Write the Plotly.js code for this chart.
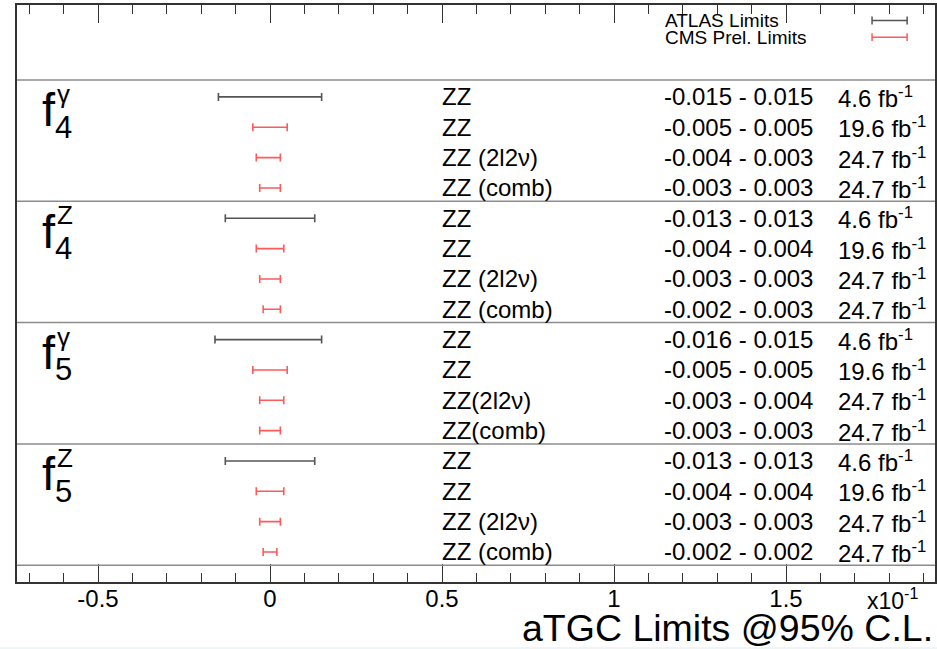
<!DOCTYPE html>
<html>
<head>
<meta charset="utf-8">
<script src="https://cdn.plot.ly/plotly-3.0.1.min.js"></script>
<style>html,body{margin:0;padding:0;background:#fff;}#chart{width:937px;height:649px;}</style>
</head>
<body>
<div id="chart"></div>
<script>
// ---------------- data ----------------
const groupSub = ['4', '4', '5', '5'];
const groupSup = ['γ', 'Z', 'γ', 'Z'];
const rowExperiment = ['ATLAS','CMS','CMS','CMS', 'ATLAS','CMS','CMS','CMS', 'ATLAS','CMS','CMS','CMS', 'ATLAS','CMS','CMS','CMS'];
const rowChannel = ['ZZ','ZZ','ZZ (2l2ν)','ZZ (comb)',
                    'ZZ','ZZ','ZZ (2l2ν)','ZZ (comb)',
                    'ZZ','ZZ','ZZ(2l2ν)','ZZ(comb)',
                    'ZZ','ZZ','ZZ (2l2ν)','ZZ (comb)'];
const rowLow  = [-0.015,-0.005,-0.004,-0.003, -0.013,-0.004,-0.003,-0.002, -0.016,-0.005,-0.003,-0.003, -0.013,-0.004,-0.003,-0.002];
const rowHigh = [ 0.015, 0.005, 0.003, 0.003,  0.013, 0.004, 0.003, 0.003,  0.015, 0.005, 0.004, 0.003,  0.013, 0.004, 0.003, 0.002];
const rowLumi = ['4.6','19.6','24.7','24.7', '4.6','19.6','24.7','24.7', '4.6','19.6','24.7','24.7', '4.6','19.6','24.7','24.7'];
const tickVals = [-0.5, 0, 0.5, 1, 1.5];
const tickText = ['-0.5', '0', '0.5', '1', '1.5'];
const axisScale = 10; // axis is in units of x10^-1
const legendNames = ['ATLAS Limits', 'CMS Prel. Limits'];

// ---------------- styling ----------------
const FONT = 'Liberation Sans, Arial, Helvetica, sans-serif';
const COL = {ATLAS: '#555555', CMS: '#ff5a5a'};
const rowsPerGroup = 4;

function fmt(v){ return v.toFixed(3); }

const traces = ['ATLAS', 'CMS'].map(exp => {
  const xs = [], ys = [], ep = [], em = [];
  rowExperiment.forEach((e, i) => {
    if (e !== exp) return;
    const lo = rowLow[i] * axisScale, hi = rowHigh[i] * axisScale;
    const mid = (lo + hi) / 2;
    xs.push(mid); ys.push(i); ep.push(hi - mid); em.push(mid - lo);
  });
  return {
    type: 'scatter', mode: 'markers', x: xs, y: ys, showlegend: false, hoverinfo: 'skip',
    marker: {size: 1, color: 'rgba(0,0,0,0)'},
    error_x: {type: 'data', symmetric: false, array: ep, arrayminus: em,
              color: COL[exp], thickness: 1.6, width: 4}
  };
});

const annotations = [];
const shapes = [];
const nGroups = groupSub.length;

rowChannel.forEach((ch, i) => {
  annotations.push({xref: 'x', yref: 'y', x: 0.495, y: i, xanchor: 'left', yanchor: 'middle',
    text: ch, showarrow: false, font: {family: FONT, size: 24, color: '#000'}});
  annotations.push({xref: 'x', yref: 'y', x: 1.14, y: i, xanchor: 'left', yanchor: 'middle',
    text: fmt(rowLow[i]) + ' - ' + fmt(rowHigh[i]), showarrow: false, font: {family: FONT, size: 24, color: '#000'}});
  annotations.push({xref: 'x', yref: 'y', x: 1.644, y: i, xanchor: 'left', yanchor: 'middle',
    text: rowLumi[i] + ' fb<sup>-1</sup>', showarrow: false, font: {family: FONT, size: 24, color: '#000'}});
});

for (let g = 0; g < nGroups; g++) {
  const y0 = g * rowsPerGroup;
  annotations.push({xref: 'x', yref: 'y', x: -0.668, y: y0 + 0.42, xanchor: 'left', yanchor: 'middle',
    text: 'f', showarrow: false, font: {family: FONT, size: 47, color: '#000'}});
  annotations.push({xref: 'x', yref: 'y', x: -0.632, y: y0 + 1.0, xanchor: 'left', yanchor: 'middle',
    text: groupSub[g], showarrow: false, font: {family: FONT, size: 31, color: '#000'}});
  annotations.push({xref: 'x', yref: 'y', x: -0.625, y: y0 - 0.1, xanchor: 'left', yanchor: 'middle',
    text: groupSup[g], showarrow: false, font: {family: FONT, size: 26, color: '#000'}});
}
for (let g = 0; g <= nGroups; g++) {
  const ys = g * rowsPerGroup - 0.56;
  shapes.push({type: 'line', xref: 'paper', yref: 'y', x0: 0, x1: 1, y0: ys, y1: ys,
    line: {color: '#8c8c8c', width: 1.5}});
}

// legend block (manual)
const legY = [-2.52, -1.97];
legendNames.forEach((n, k) => {
  annotations.push({xref: 'x', yref: 'y', x: 1.143, y: legY[k], xanchor: 'left', yanchor: 'middle',
    text: n, showarrow: false, font: {family: FONT, size: 19, color: '#000'}});
  const c = k === 0 ? COL.ATLAS : COL.CMS;
  shapes.push({type: 'line', xref: 'x', yref: 'y', x0: 1.75, x1: 1.852, y0: legY[k], y1: legY[k], line: {color: c, width: 1.5}});
  shapes.push({type: 'line', xref: 'x', yref: 'y', x0: 1.75, x1: 1.75, y0: legY[k] - 0.13, y1: legY[k] + 0.13, line: {color: c, width: 1.5}});
  shapes.push({type: 'line', xref: 'x', yref: 'y', x0: 1.852, x1: 1.852, y0: legY[k] - 0.13, y1: legY[k] + 0.13, line: {color: c, width: 1.5}});
});

annotations.push({xref: 'paper', yref: 'paper', x: 0.924, y: -0.029, xanchor: 'left', yanchor: 'middle',
  text: 'x10<sup>-1</sup>', showarrow: false, font: {family: FONT, size: 23, color: '#000'}});
annotations.push({xref: 'paper', yref: 'paper', x: 1.0, y: -0.080, xanchor: 'right', yanchor: 'middle',
  text: 'aTGC Limits @95% C.L.', showarrow: false, font: {family: FONT, size: 37.5, color: '#000'}});

// faint strip at the bottom edge of the image
shapes.push({type: 'rect', xref: 'paper', yref: 'paper', x0: -0.02, x1: 1.01, y0: -0.1165, y1: -0.1125,
  line: {width: 0}, fillcolor: '#eef5f4', layer: 'below'});

const layout = {
  width: 937, height: 649,
  margin: {l: 17, r: 2, t: 5, b: 67},
  paper_bgcolor: '#ffffff', plot_bgcolor: '#ffffff',
  showlegend: false,
  xaxis: {
    range: [-0.7355, 1.933], showgrid: false, zeroline: false,
    showline: true, linecolor: '#333', linewidth: 2, mirror: 'ticks',
    ticks: 'inside', ticklen: 18, tickwidth: 1, tickcolor: '#333',
    tickmode: 'array', tickvals: tickVals, ticktext: tickText,
    ticklabelstandoff: -6,
    tickfont: {family: FONT, size: 24, color: '#000'},
    minor: {dtick: 0.1, tick0: 0, ticks: 'inside', ticklen: 9, tickwidth: 1, tickcolor: '#333', showgrid: false}
  },
  yaxis: {
    range: [15.99, -3.03], showgrid: false, zeroline: false, showticklabels: false,
    showline: true, linecolor: '#333', linewidth: 2, mirror: true, ticks: ''
  },
  annotations: annotations,
  shapes: shapes
};

Plotly.newPlot('chart', traces, layout, {displayModeBar: false, staticPlot: true});
</script>
</body>
</html>
